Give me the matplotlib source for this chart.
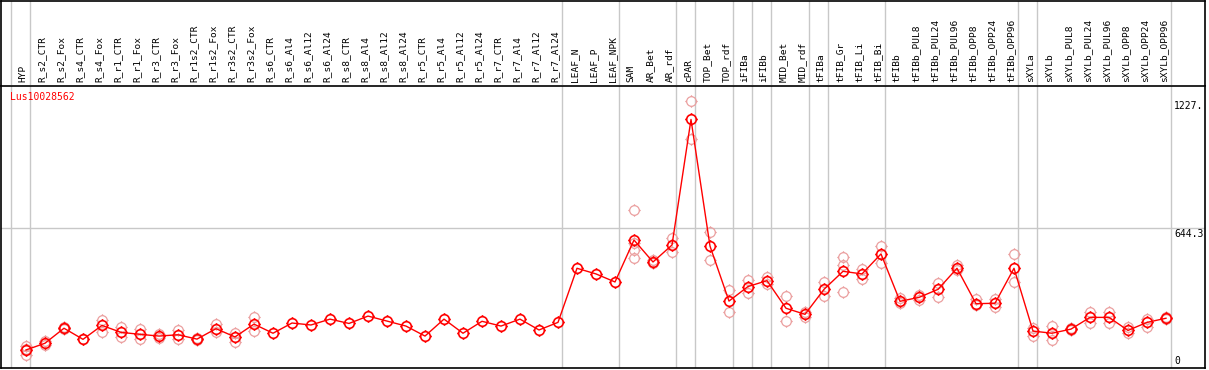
import matplotlib
matplotlib.use("Agg")
import matplotlib.pyplot as plt
from matplotlib.path import Path

plt.rcParams.update({
    "font.family": "DejaVu Sans Mono",
    "font.size": 7,
})

# ------------------------- data ---------------------------------------------
samples = [
    'HYP',
    'R_s2_CTR', 'R_s2_Fox', 'R_s4_CTR', 'R_s4_Fox', 'R_r1_CTR', 'R_r1_Fox',
    'R_r3_CTR', 'R_r3_Fox', 'R_r1s2_CTR', 'R_r1s2_Fox', 'R_r3s2_CTR', 'R_r3s2_Fox',
    'R_s6_CTR', 'R_s6_Al4', 'R_s6_Al12', 'R_s6_Al24',
    'R_s8_CTR', 'R_s8_Al4', 'R_s8_Al12', 'R_s8_Al24',
    'R_r5_CTR', 'R_r5_Al4', 'R_r5_Al12', 'R_r5_Al24',
    'R_r7_CTR', 'R_r7_Al4', 'R_r7_Al12', 'R_r7_Al24',
    'LEAF_N', 'LEAF_P', 'LEAF_NPK',
    'SAM', 'AR_Bet', 'AR_rdf',
    'cPAR',
    'TOP_Bet', 'TOP_rdf',
    'iFIBa',
    'iFIBb',
    'MID_Bet', 'MID_rdf',
    'tFIBa',
    'tFIB_Gr', 'tFIB_Li', 'tFIB_Bi',
    'tFIBb', 'tFIBb_PUL8', 'tFIBb_PUL24', 'tFIBb_PUL96',
    'tFIBb_OPP8', 'tFIBb_OPP24', 'tFIBb_OPP96',
    'sXYLa',
    'sXYLb', 'sXYLb_PUL8', 'sXYLb_PUL24', 'sXYLb_PUL96',
    'sXYLb_OPP8', 'sXYLb_OPP24', 'sXYLb_OPP96',
]

# first sample of every group (a grey separator goes before each)
group_starts = ['HYP', 'R_s2_CTR', 'LEAF_N', 'SAM', 'cPAR', 'TOP_Bet', 'iFIBa',
                'iFIBb', 'MID_Bet', 'tFIBa', 'tFIB_Gr', 'tFIBb', 'sXYLa', 'sXYLb']

means = [
    83,
    114, 183, 132, 196, 164, 155,
    147, 153, 133, 181, 143, 202,
    160, 207, 198, 225,
    205, 239, 216, 193,
    147, 225, 160, 215,
    193, 225, 175, 210,
    459, 433, 396,
    589, 488, 566,
    1144,
    561, 308,
    375,
    402,
    275, 247,
    362,
    445, 433, 525,
    307, 325, 362, 459,
    296, 298, 459,
    170,
    160, 179, 233, 233,
    173, 210, 229,
]

replicates = [
    [103, 58, 88],
    [125, 106], [190, 178], [132], [221, 167], [189, 144], [181, 133],
    [158, 138], [176, 135], [136, 130], [201, 164], [162, 118], [235, 169],
    [], [], [], [],
    [], [], [], [],
    [], [], [], [],
    [], [], [], [],
    [], [], [],
    [727, 542, 505, 575], [497, 482], [598, 532],
    [1227, 1052],
    [627, 496], [359, 256],
    [405, 347],
    [420, 385],
    [333, 215], [258, 236],
    [394, 331],
    [511, 476, 348], [456, 408], [561, 482],
    [324, 298], [336, 313], [390, 328], [473, 451],
    [318, 290], [318, 279], [525, 394],
    [185, 149],
    [195, 127], [185, 174], [259, 208], [256, 208],
    [189, 162], [227, 190], [233, 226],
]

gene = 'Lus10028562'
y_max = 1227.
y_mid = 644.3

# ------------------------- figure -------------------------------------------
W, H = 1209, 370
fig = plt.figure(figsize=(W / 100, H / 100), dpi=100)

x_left = (1 - 26) / 19
x_right = (1205 - 26) / 19
ax = fig.add_axes([1 / W, 2 / H, 1204 / W, 282 / H])
hd = fig.add_axes([1 / W, 285 / H, 1204 / W, 84 / H], sharex=ax)

# gunsight marker: circle with four short ticks
ticks = Path([(1, 0), (1.3, 0), (-1, 0), (-1.3, 0),
              (0, 1), (0, 1.3), (0, -1), (0, -1.3)],
             [Path.MOVETO, Path.LINETO] * 4)
circle = Path.circle((0, 0), 1.0, readonly=False)
sight = Path.make_compound_path(circle, ticks)

xs = list(range(len(samples)))
for i, reps in enumerate(replicates):
    ax.plot([i] * len(reps), reps, ls='none', marker=sight, ms=9,
            mfc='none', mec='#eba0a0', mew=0.9, zorder=2)
ax.plot(xs, means, color='red', lw=1.0, marker=sight, ms=9,
        mfc='none', mec='red', mew=1.2, zorder=3)

# separators
seps = [samples.index(g) - 0.79 for g in group_starts] + [len(samples) - 0.74]
for a in (ax, hd):
    for s in seps:
        a.axvline(s, color='#c8c8c8', lw=1.0, zorder=0)
ax.axhline(y_mid, color='#c8c8c8', lw=1.0, zorder=0)

ax.set_xlim(x_left, x_right)
ax.set_ylim(0, 1298)
hd.set_ylim(0, 1)

for i, name in enumerate(samples):
    hd.text(i - 0.15, 0.04, name, rotation=90, ha='center', va='bottom',
            fontsize=6.8)

xr = (1174 - 26) / 19
ax.text(xr, y_max, '1227.', ha='left', va='top', fontsize=7)
ax.text(xr, y_mid - 4, '644.3', ha='left', va='top', fontsize=7)
ax.text(xr, 8, '0', ha='left', va='bottom', fontsize=7)
ax.text(9 / 1204, 0.98, gene, color='red', ha='left', va='top',
        transform=ax.transAxes, fontsize=7)

for a in (ax, hd):
    a.set_xticks([])
    a.set_yticks([])
    for sp in a.spines.values():
        sp.set_color('black')
        sp.set_linewidth(1.2)
hd.spines['bottom'].set_visible(False)

fig.savefig('out.png', dpi=100)
